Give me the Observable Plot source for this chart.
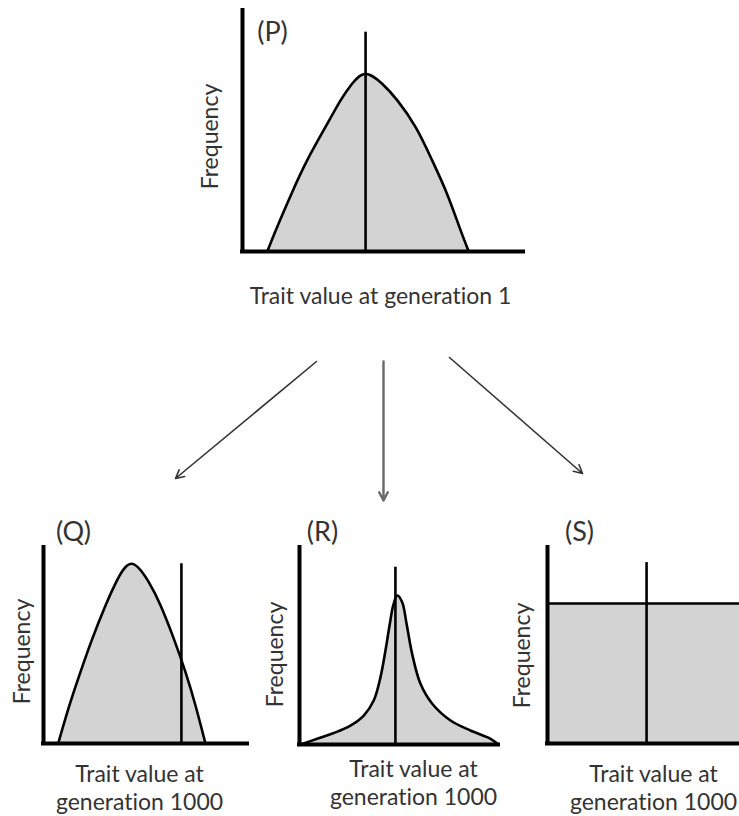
<!DOCTYPE html>
<html><head><meta charset="utf-8">
<script src="https://cdn.jsdelivr.net/npm/d3@7"></script>
<script src="https://cdn.jsdelivr.net/npm/@observablehq/plot@0.6"></script>
<style>
body{margin:0;background:#fff;}
#wrap{position:relative;width:739px;height:816px;overflow:hidden;}
#wrap > svg{position:absolute;overflow:visible;font-variant-ligatures:none;}
</style></head><body><div id="wrap"></div>
<script>
// ---- data (trait value 0..100 along axis, frequency 0..1 of axis height) ----
const pTrait = [8.8, 12.3, 17.4, 23.0, 29.5, 34.9, 39.0, 43.8, 49.7, 55.1, 61.6, 67.5, 72.8, 77.2, 80.5];
const pFreq  = [0, 0.101, 0.239, 0.378, 0.516, 0.627, 0.696, 0.737, 0.696, 0.627, 0.516, 0.378, 0.239, 0.101, 0];
const pMean = 43.8, pMeanTop = 0.91;

const qTrait = [7.2, 12.7, 18.1, 23.9, 30.4, 35.6, 43.1, 51.6, 57.4, 63.9, 69.6, 74.5, 79.4];
const qFreq  = [0, 0.194, 0.364, 0.534, 0.704, 0.823, 0.917, 0.823, 0.704, 0.534, 0.364, 0.194, 0];
const qMean = 67.6, qMeanTop = 0.917;

const rTrait = [0.5, 8.9, 17.2, 25.6, 32.3, 37.3, 40.7, 43.2, 45.4, 47.1, 49.1, 51.6, 53.8, 56.6, 60.8, 66.7, 75.9, 85.9, 96.0, 100];
const rFreq  = [0, 0.029, 0.058, 0.096, 0.147, 0.223, 0.342, 0.477, 0.613, 0.706, 0.756, 0.722, 0.613, 0.460, 0.308, 0.207, 0.122, 0.071, 0.029, 0];
const rMean = 48.2, rMeanTop = 0.90;

const sTrait = [0, 100];
const sFreq  = [0.714, 0.714];
const sMean = 51.6, sMeanTop = 0.923;

const tags = ["(P)", "(Q)", "(R)", "(S)"];
const xLabels = ["Trait value at generation 1", "Trait value at\ngeneration 1000", "Trait value at\ngeneration 1000", "Trait value at\ngeneration 1000"];
const yLabel = "Frequency";

// arrows between panels (page coordinates)
const arrowX1 = [316, 383, 449];
const arrowY1 = [361, 361, 357];
const arrowX2 = [175, 383, 582];
const arrowY2 = [478, 500, 473];
const arrowColor = ["#333", "#6a6a6a", "#333"];
const arrowWidth = [1.6, 2.4, 1.6];

// ---- drawing ----
const FONT = "Lato, sans-serif";
const FS = 23;
const TAGFS = 27;
const TXT = "#333";
const FILL = "#d3d3d3";
const wrap = document.getElementById("wrap");

function table(xs, ys) { return xs.map((x, i) => ({x, y: ys[i]})); }

function panel(o) {
  const data = table(o.tx, o.fy);
  const marks = [];
  const curve = o.curve;
  marks.push(Plot.areaY(data, {x: "x", y: "y", fill: FILL, curve}));
  marks.push(Plot.lineY(data, {x: "x", y: "y", stroke: "#000", strokeWidth: 2.6, curve}));
  marks.push(Plot.ruleX([o.mean], {y1: 0, y2: o.meanTop, stroke: "#000", strokeWidth: 2.6}));
  marks.push(Plot.ruleX([0], {y1: 0, y2: 1, stroke: "#000", strokeWidth: 4, strokeLinecap: "square"}));
  marks.push(Plot.ruleY([0], {x1: 0, x2: 100, stroke: "#000", strokeWidth: 4, strokeLinecap: "square"}));
  marks.push(Plot.text([o.tag], {frameAnchor: "top-left", dx: o.tagDx, dy: o.tagDy, textAnchor: "middle", lineAnchor: "middle", fontSize: TAGFS, fill: TXT}));
  marks.push(Plot.text([yLabel], {frameAnchor: "left", dx: o.fDx, dy: o.fDy, rotate: -90, textAnchor: "middle", lineAnchor: "middle", fontSize: FS, fill: TXT}));
  marks.push(Plot.text([o.xlab], {frameAnchor: "bottom", dx: o.xDx, dy: o.xDy, textAnchor: "middle", lineAnchor: "middle", lineHeight: 1.2, fontSize: FS, fill: TXT}));
  const svg = Plot.plot({
    width: o.w, height: o.h,
    marginLeft: o.mL, marginTop: o.mT, marginRight: o.mR, marginBottom: o.mB,
    x: {domain: [0, 100], axis: null},
    y: {domain: [0, 1], axis: null},
    style: {fontFamily: FONT, background: "transparent", overflow: "visible"},
    marks
  });
  svg.style.left = o.left + "px";
  svg.style.top = o.top + "px";
  wrap.appendChild(svg);
}

// arrows overlay
const arrows = arrowX1.map((x1, i) => ({x1, y1: arrowY1[i], x2: arrowX2[i], y2: arrowY2[i], c: arrowColor[i], w: arrowWidth[i]}));
const ov = Plot.plot({
  width: 739, height: 816, margin: 0,
  x: {domain: [0, 739], axis: null},
  y: {domain: [0, 816], reverse: true, axis: null},
  style: {background: "transparent"},
  marks: [
    Plot.arrow(arrows, {x1: "x1", y1: "y1", x2: "x2", y2: "y2", stroke: "c", strokeWidth: "w", headLength: 14, headAngle: 55})
  ]
});
ov.style.left = "0px"; ov.style.top = "0px";
wrap.appendChild(ov);

panel({left: 150, top: 0, w: 400, h: 330, mL: 92, mT: 10, mR: 27, mB: 79, curve: "natural",
  tx: pTrait, fy: pFreq, mean: pMean, meanTop: pMeanTop,
  tag: tags[0], tagDx: 30, tagDy: 22, fDx: -32, fDy: 5.5, xlab: xLabels[0], xDx: -2.5, xDy: 44});
panel({left: 0, top: 480, w: 260, h: 336, mL: 43, mT: 67, mR: 13, mB: 73, curve: "natural",
  tx: qTrait, fy: qFreq, mean: qMean, meanTop: qMeanTop,
  tag: tags[1], tagDx: 30, tagDy: -15, fDx: -21, fDy: 6, xlab: xLabels[1], xDx: -6, xDy: 43.5});
panel({left: 250, top: 480, w: 260, h: 336, mL: 49, mT: 67, mR: 12, mB: 72, curve: "catmull-rom",
  tx: rTrait, fy: rFreq, mean: rMean, meanTop: rMeanTop,
  tag: tags[2], tagDx: 23, tagDy: -15, fDx: -24, fDy: 8.5, xlab: xLabels[2], xDx: 14.5, xDy: 37.5});
panel({left: 490, top: 480, w: 249, h: 336, mL: 57, mT: 67, mR: 0, mB: 73, curve: "linear",
  tx: sTrait, fy: sFreq, mean: sMean, meanTop: sMeanTop,
  tag: tags[3], tagDx: 32, tagDy: -15, fDx: -25, fDy: 10, xlab: xLabels[3], xDx: 10, xDy: 43.5});
</script>
</body></html>
